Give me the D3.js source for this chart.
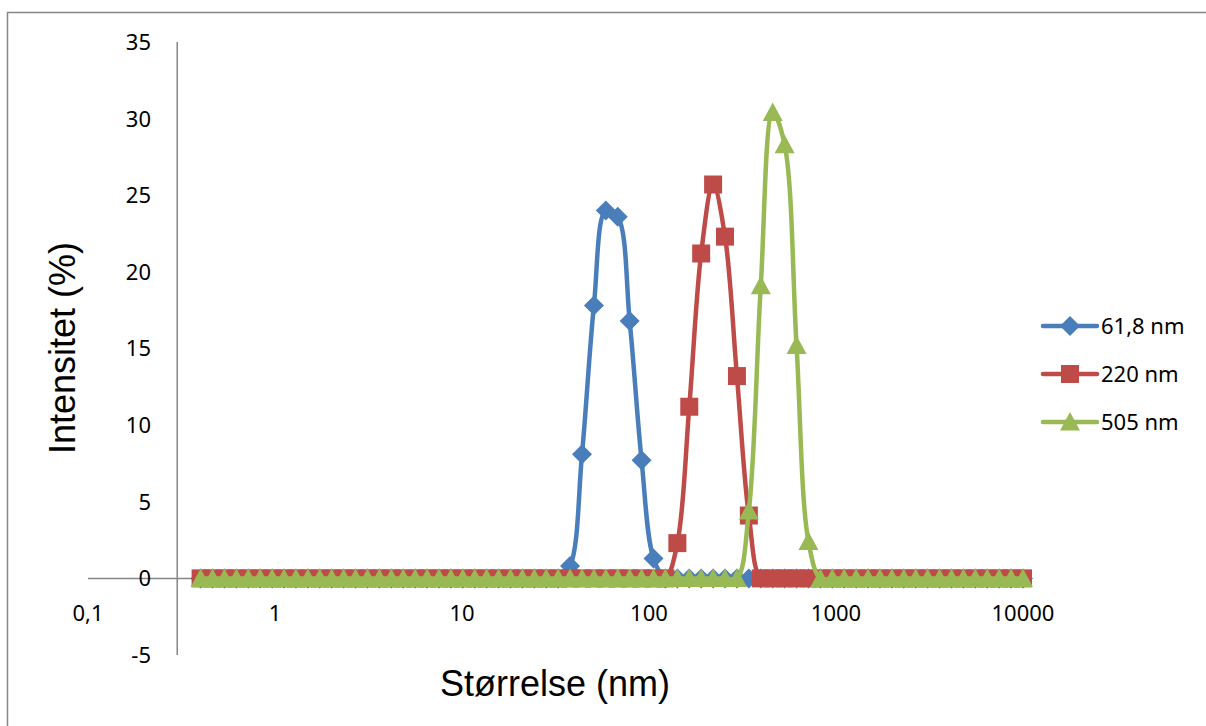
<!DOCTYPE html>
<html>
<head>
<meta charset="utf-8">
<script src="https://cdn.jsdelivr.net/npm/d3@7"></script>
<style>
  html, body { margin: 0; padding: 0; background: #fff; }
  svg { display: block; }
</style>
</head>
<body>
<svg id="chart" width="1206" height="726"></svg>
<script>
// Particle size bins (nm), log-spaced
const sizes = [
  0.4, 0.4632, 0.5365, 0.6213, 0.7195, 0.8332, 0.9649, 1.117, 1.294, 1.499,
  1.736, 2.01, 2.328, 2.696, 3.122, 3.615, 4.187, 4.849, 5.615, 6.503,
  7.531, 8.721, 10.1, 11.7, 13.54, 15.69, 18.17, 21.04, 24.36, 28.21,
  32.67, 37.84, 43.82, 50.75, 58.77, 68.06, 78.82, 91.28, 105.7, 122.4,
  141.8, 164.2, 190.1, 220.2, 255, 295.3, 342, 396.1, 458.7, 531.2,
  615.1, 712.4, 825, 955.4, 1106, 1281, 1484, 1718, 1990, 2305,
  2669, 3091, 3580, 4145, 4801, 5560, 6439, 7456, 8635, 10000
];

// Intensity (%) per bin for each sample
const int618 = [
  0, 0, 0, 0, 0, 0, 0, 0, 0, 0,
  0, 0, 0, 0, 0, 0, 0, 0, 0, 0,
  0, 0, 0, 0, 0, 0, 0, 0, 0, 0,
  0, 0.8, 8.1, 17.8, 24.0, 23.6, 16.8, 7.7, 1.3, 0,
  0, 0, 0, 0, 0, 0, 0, 0, 0, 0,
  0, 0, 0, 0, 0, 0, 0, 0, 0, 0,
  0, 0, 0, 0, 0, 0, 0, 0, 0, 0
];
const int220 = [
  0, 0, 0, 0, 0, 0, 0, 0, 0, 0,
  0, 0, 0, 0, 0, 0, 0, 0, 0, 0,
  0, 0, 0, 0, 0, 0, 0, 0, 0, 0,
  0, 0, 0, 0, 0, 0, 0, 0, 0, 0,
  2.3, 11.2, 21.2, 25.7, 22.3, 13.2, 4.1, 0, 0, 0,
  0, 0, 0, 0, 0, 0, 0, 0, 0, 0,
  0, 0, 0, 0, 0, 0, 0, 0, 0, 0
];
const int505 = [
  0, 0, 0, 0, 0, 0, 0, 0, 0, 0,
  0, 0, 0, 0, 0, 0, 0, 0, 0, 0,
  0, 0, 0, 0, 0, 0, 0, 0, 0, 0,
  0, 0, 0, 0, 0, 0, 0, 0, 0, 0,
  0, 0, 0, 0, 0, 0, 4.4, 19.1, 30.4, 28.3,
  15.2, 2.4, 0, 0, 0, 0, 0, 0, 0, 0,
  0, 0, 0, 0, 0, 0, 0, 0, 0, 0
];

const seriesNames = ["61,8 nm", "220 nm", "505 nm"];
const xTickValues = [0.1, 1, 10, 100, 1000, 10000];
const xTickLabels = ["0,1", "1", "10", "100", "1000", "10000"];
const yTickValues = [-5, 0, 5, 10, 15, 20, 25, 30, 35];
const xTitle = "Størrelse (nm)";
const yTitle = "Intensitet (%)";

const colors = ["#4A7EBB", "#BE4B48", "#98B954"];
const markerKinds = ["diamond", "square", "triangle"];

const svg = d3.select("#chart");
const tickFont = "'Noto Sans', 'Open Sans', sans-serif";
const titleFont = "'Liberation Sans', Arial, sans-serif";

// outer chart frame
svg.append("rect")
  .attr("x", 7.5).attr("y", 12.5)
  .attr("width", 1220).attr("height", 740)
  .attr("fill", "#fff")
  .attr("stroke", "#868686").attr("stroke-width", 1.5);

const x = d3.scaleLog().domain([0.1, 10000]).range([88, 1023]);
const y = d3.scaleLinear().domain([-5, 35]).range([655, 42]);
const yAxisCross = 0.3;

// y axis line
svg.append("line")
  .attr("x1", x(yAxisCross)).attr("x2", x(yAxisCross))
  .attr("y1", y(35)).attr("y2", y(-5))
  .attr("stroke", "#868686").attr("stroke-width", 1.5);

// x axis line at zero
svg.append("line")
  .attr("x1", x(0.1)).attr("x2", x(10000))
  .attr("y1", y(0)).attr("y2", y(0))
  .attr("stroke", "#868686").attr("stroke-width", 1.5);

// y tick labels
svg.append("g").selectAll("text")
  .data(yTickValues).join("text")
  .attr("x", 151)
  .attr("y", d => y(d))
  .attr("dy", "0.36em")
  .attr("text-anchor", "end")
  .attr("font-family", tickFont)
  .attr("font-size", 22)
  .attr("fill", "#000")
  .text(d => d);

// x tick labels (placed below the plot area)
svg.append("g").selectAll("text")
  .data(xTickValues).join("text")
  .attr("x", d => x(d))
  .attr("y", 613)
  .attr("dy", "0.36em")
  .attr("text-anchor", "middle")
  .attr("font-family", tickFont)
  .attr("font-size", 22)
  .attr("fill", "#000")
  .text((d, i) => xTickLabels[i]);

// axis titles
svg.append("text")
  .attr("x", 555).attr("y", 683)
  .attr("dy", "0.36em")
  .attr("text-anchor", "middle")
  .attr("font-family", titleFont)
  .attr("font-size", 36)
  .text(xTitle);

svg.append("text")
  .attr("transform", "translate(62,348) rotate(-90)")
  .attr("dy", "0.36em")
  .attr("text-anchor", "middle")
  .attr("font-family", titleFont)
  .attr("font-size", 36)
  .text(yTitle);

function markerPath(kind) {
  if (kind === "diamond") return "M0,-10L10,0L0,10L-10,0Z";
  if (kind === "square") return "M-9,-9H9V9H-9Z";
  return "M0,-10L10,8.5L-10,8.5Z";
}

const line = d3.line()
  .x(d => x(d[0]))
  .y(d => y(d[1]))
  .curve(d3.curveCatmullRom.alpha(0.5));

const allSeries = [int618, int220, int505];

allSeries.forEach((vals, si) => {
  const pts = sizes.map((s, i) => [s, vals[i]]);
  const g = svg.append("g");
  g.append("path")
    .datum(pts)
    .attr("d", line)
    .attr("fill", "none")
    .attr("stroke", colors[si])
    .attr("stroke-width", 4.5)
    .attr("stroke-linejoin", "round")
    .attr("stroke-linecap", "round");
  g.selectAll("path.m")
    .data(pts).join("path")
    .attr("class", "m")
    .attr("transform", d => `translate(${x(d[0])},${y(d[1])})`)
    .attr("d", markerPath(markerKinds[si]))
    .attr("fill", colors[si]);
});

// legend
const legend = svg.append("g");
const legendY = [326, 374, 422];
seriesNames.forEach((name, i) => {
  const row = legend.append("g").attr("transform", `translate(0,${legendY[i]})`);
  row.append("line")
    .attr("x1", 1043).attr("x2", 1097)
    .attr("y1", 0).attr("y2", 0)
    .attr("stroke", colors[i]).attr("stroke-width", 4.5)
    .attr("stroke-linecap", "round");
  row.append("path")
    .attr("transform", "translate(1070,0)")
    .attr("d", markerPath(markerKinds[i]))
    .attr("fill", colors[i]);
  row.append("text")
    .attr("x", 1101).attr("y", 0)
    .attr("dy", "0.36em")
    .attr("font-family", tickFont)
    .attr("font-size", 22)
    .text(name);
});
</script>
</body>
</html>
